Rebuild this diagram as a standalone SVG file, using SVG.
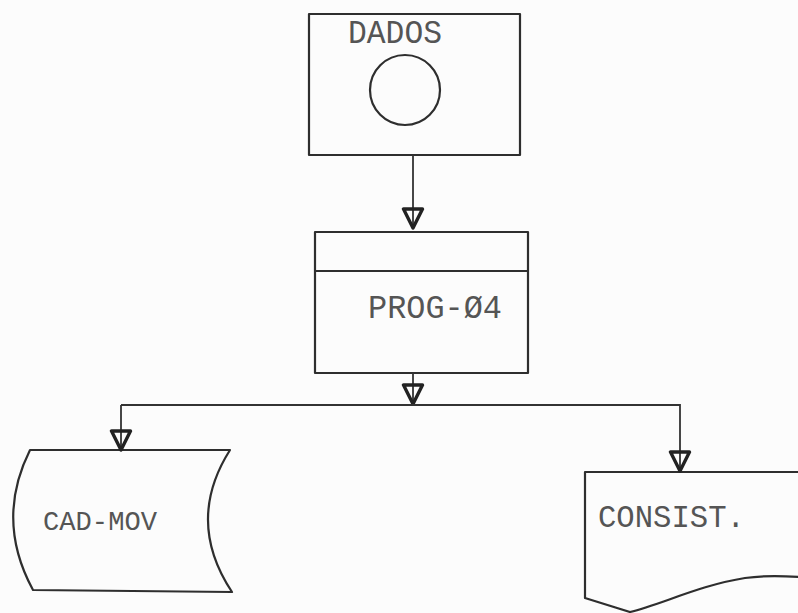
<svg xmlns="http://www.w3.org/2000/svg" width="798" height="613" viewBox="0 0 798 613">
<style>
.shape{fill:none;stroke:#2e2e2e;stroke-width:2.2;stroke-linejoin:round}
.conn{fill:none;stroke:#333;stroke-width:1.8}
.lbl{font-family:"Liberation Mono","Courier New",monospace;fill:#555;}
</style>
<defs>
<marker id="arr" markerUnits="userSpaceOnUse" markerWidth="24" markerHeight="24" viewBox="0 0 24 24" refX="22" refY="12" orient="auto">
<path d="M3,2.5 L22,12 L3,21.5 Z" fill="none" stroke="#222" stroke-width="3.4" stroke-linejoin="round"/>
</marker>
</defs>
<rect width="798" height="613" fill="#fcfcfc"/>
<g id="dados">
<rect class="shape" x="309" y="14" width="211" height="141"/>
<circle class="shape" cx="405" cy="90" r="35"/>
<text class="lbl" x="348" y="43" font-size="33" textLength="94" lengthAdjust="spacingAndGlyphs">DADOS</text>
</g>
<g id="prog04">
<rect class="shape" x="315" y="232" width="213" height="141"/>
<line class="shape" x1="315" y1="271" x2="528" y2="271"/>
<text class="lbl" x="368" y="318" font-size="33" textLength="134" lengthAdjust="spacingAndGlyphs">PROG-Ø4</text>
</g>
<g id="cadmov">
<path class="shape" d="M30,450 L230,450 Q185,521 232,592 L33,590 Q-5,520 30,450 Z"/>
<text class="lbl" x="43" y="530" font-size="28" textLength="114" lengthAdjust="spacingAndGlyphs">CAD-MOV</text>
</g>
<g id="consist">
<path class="shape" d="M800,472 L585,472 L585,598 L630,612 C660,605 700,585 745,578 C765,575 785,576 800,577"/>
<text class="lbl" x="598" y="527" font-size="31" textLength="147" lengthAdjust="spacingAndGlyphs">CONSIST.</text>
</g>
<g id="connectors">
<path class="conn" d="M413,155 V228" marker-end="url(#arr)"/>
<path class="conn" d="M413,373 V404" marker-end="url(#arr)"/>
<path class="conn" d="M121,405 H680 V471" marker-end="url(#arr)"/>
<path class="conn" d="M121,405 V450" marker-end="url(#arr)"/>
</g>
</svg>
